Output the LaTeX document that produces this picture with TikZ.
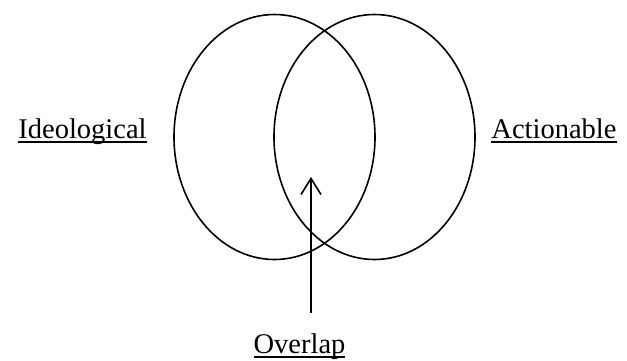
\documentclass[tikz,border=0pt]{standalone}
\usepackage{fontspec}
\setmainfont{Liberation Serif}
\usetikzlibrary{shapes.geometric,arrows.meta}
\newcommand{\ulbl}[1]{\leavevmode\setbox0=\hbox{#1}\rlap{\vrule height -2.8pt depth 4.6pt width \wd0}\box0}
\begin{document}
\begin{tikzpicture}[x=1pt,y=-1pt,
  ring/.style={draw,ellipse,line width=1.6pt,minimum width=201pt,minimum height=245pt,inner sep=0pt},
  lbl/.style={font=\fontsize{28.5}{32}\selectfont,inner sep=0pt,anchor=base}]
\useasboundingbox (0,0) rectangle (627,360);
\node[ring] (ideo) at (274.5,137) {};
\node[ring] (act) at (374.5,137) {};
\node[lbl] (ideotxt) at (82.5,138) {\ulbl{Ideological}};
\node[lbl] (acttxt) at (554,138) {\ulbl{Actionable}};
\node[lbl] (overtxt) at (299.5,353) {\ulbl{Overlap}};
\coordinate (tail) at (311,313);
\coordinate (tip) at (311,177);
\draw[-{Straight Barb[length=16pt,width=20pt]},line width=1.6pt] (tail) -- (tip);
\end{tikzpicture}
\end{document}
